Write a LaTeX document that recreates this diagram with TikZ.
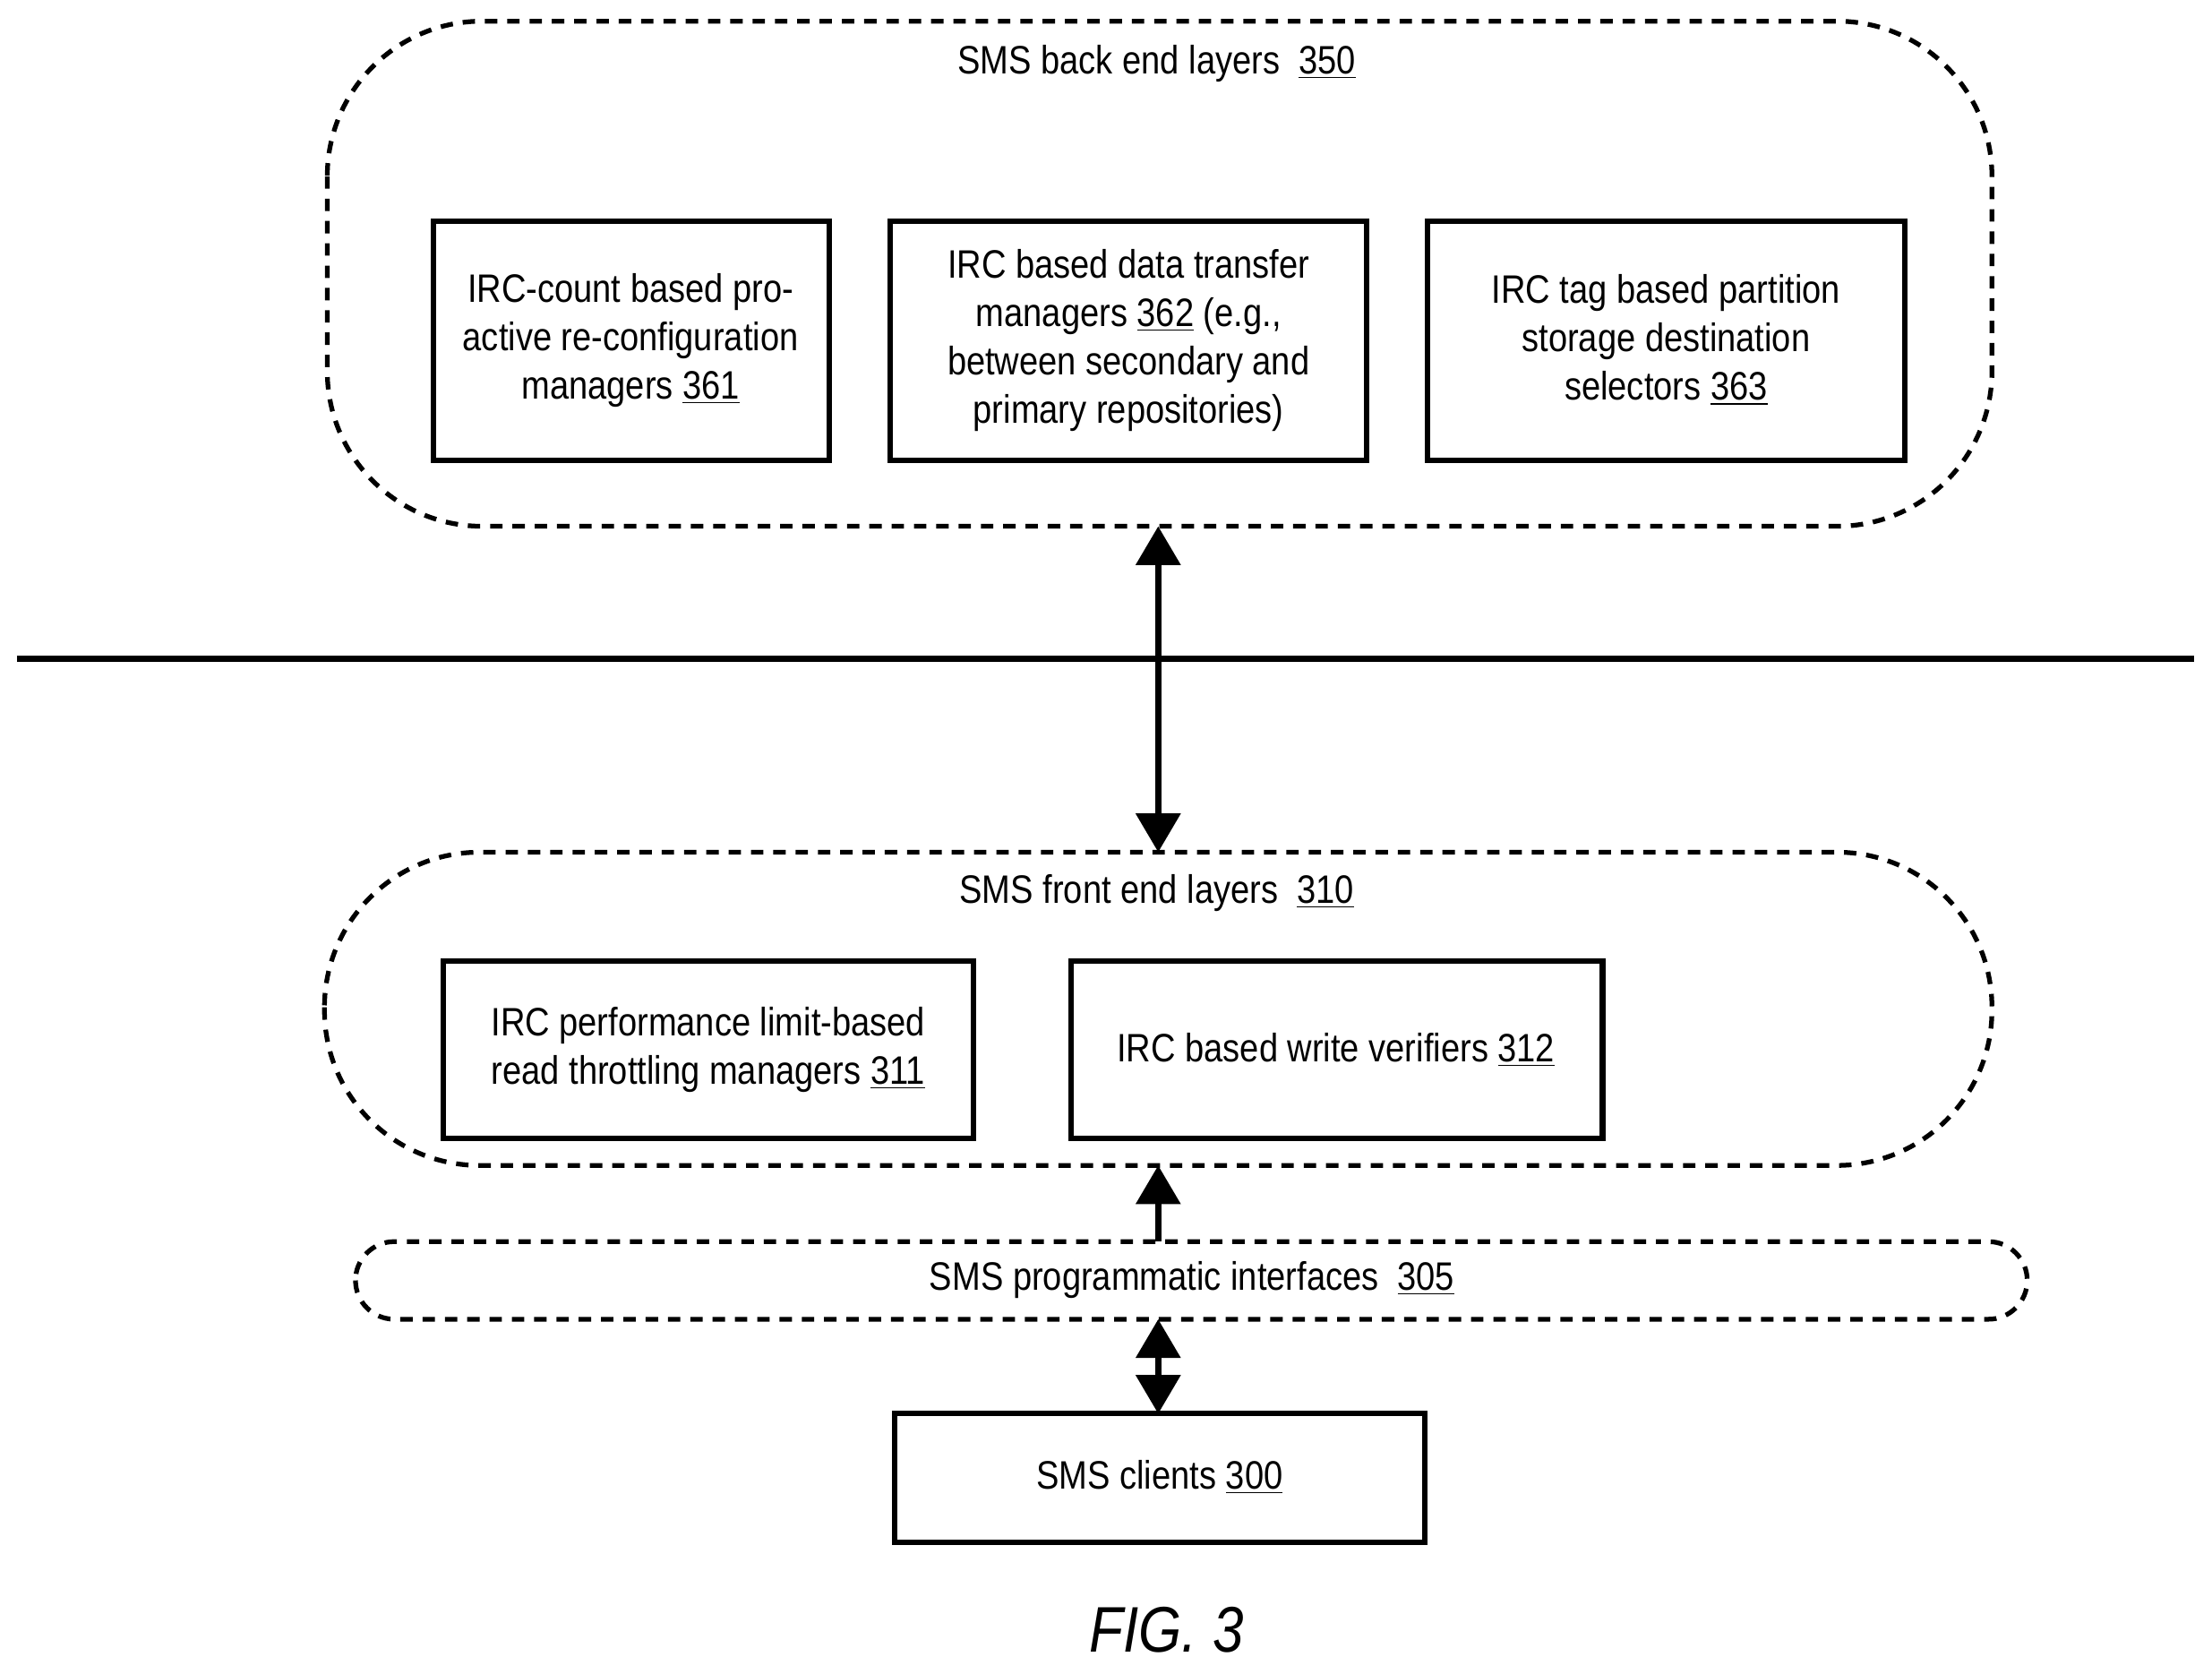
\documentclass[tikz,border=0pt]{standalone}
\usepackage{fontspec}
\setmainfont{Liberation Sans}[FakeStretch=0.86]
\usetikzlibrary{arrows.meta}
\begin{document}
\begin{tikzpicture}[x=0.02cm,y=-0.02cm,
  box/.style={draw,line width=2.2pt,inner sep=0pt},
  cloud/.style={draw,line width=1.9pt,dash pattern=on 5pt off 4pt},
  arr/.style={line width=2.6pt,{Triangle[width=0.62cm,length=0.55cm]}-{Triangle[width=0.62cm,length=0.55cm]}},
  txt/.style={font=\fontsize{16}{19.5}\selectfont,align=center}]
\useasboundingbox (0,0) rectangle (1568,1186.4);
% back end
\draw[cloud,rounded corners=2.2cm] (232,15) rectangle (1412,373);
\node[txt] (t350) at (820,45) {SMS back end layers\ \ \underline{350}};
\draw[box] (307,157) rectangle (588,326);
\node[txt] (b361) at (447,241) {IRC-count based pro-\\active re-configuration\\managers \underline{361}};
\draw[box] (631,157) rectangle (969,326);
\node[txt] (b362) at (800,241) {IRC based data transfer\\managers \underline{362} (e.g.,\\between secondary and\\primary repositories)};
\draw[box] (1012,157) rectangle (1350,326);
\node[txt] (b363) at (1181,241) {IRC tag based partition\\storage destination\\selectors \underline{363}};
% divider
\draw[line width=2.6pt] (12,467) -- (1555,467);
% front end
\draw[cloud,rounded corners=2.2cm] (230,604) rectangle (1412,826);
\node[txt] (t310) at (820,633) {SMS front end layers\ \ \underline{310}};
\draw[box] (314,681) rectangle (690,807);
\node[txt] (b311) at (502,744) {IRC performance limit-based\\read throttling managers \underline{311}};
\draw[box] (759,681) rectangle (1136,807);
\node[txt] (b312) at (947,744) {IRC based write verifiers \underline{312}};
% interfaces
\draw[cloud,rounded corners=0.55cm] (252,880) rectangle (1437,935);
\node[txt] (t305) at (845,907) {SMS programmatic interfaces\ \ \underline{305}};
% clients
\draw[box] (634,1002) rectangle (1010,1093);
\node[txt] (c300) at (822,1047) {SMS clients \underline{300}};
\node[font=\fontsize{26}{30}\selectfont\itshape] (fig) at (827,1155) {FIG. 3};
% arrows
\coordinate (a1) at (821,373); \coordinate (a2) at (821,604);
\draw[arr] (a1) -- (a2);
\coordinate (b1) at (821,826); \coordinate (b2) at (821,880);
\draw[line width=2.6pt,-{Triangle[width=0.62cm,length=0.55cm]}] (b2) -- (b1);
\coordinate (c1) at (821,935); \coordinate (c2) at (821,1002);
\draw[arr] (c1) -- (c2);
\end{tikzpicture}
\end{document}
